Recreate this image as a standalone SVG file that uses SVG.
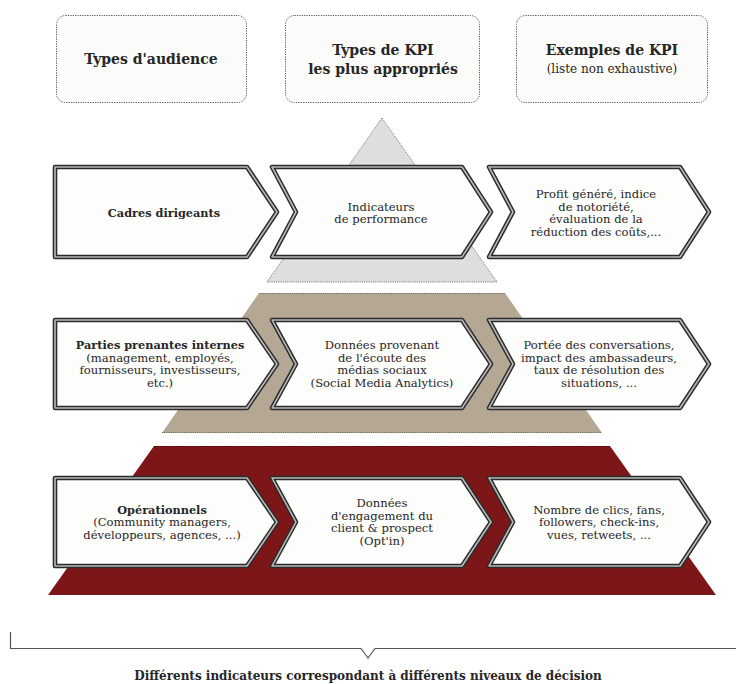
<svg xmlns="http://www.w3.org/2000/svg" width="736" height="684" viewBox="0 0 736 684">
  <style>
    .hdr { fill: #fbfbf9; stroke: #555; stroke-width: 1; stroke-dasharray: 1.2 1.2; }
    .chev-fill { fill: #fdfdfb; }
    .chev-outer { fill: none; stroke: #2b2b2b; stroke-width: 4.6; stroke-linejoin: round; }
    .chev-inner { fill: none; stroke: #b8b8b8; stroke-width: 1.6; stroke-linejoin: round; }
    text { font-family: "DejaVu Serif", "Liberation Serif", serif; fill: #262626; text-anchor: middle; }
    .h { font-size: 14px; font-weight: bold; }
    .hs { font-size: 12px; }
    .b { font-size: 11.3px; font-weight: bold; }
    .t { font-size: 11.6px; }
    .cap { font-size: 12px; font-weight: bold; }
  </style>

  <rect width="736" height="684" fill="#ffffff"/>

  <!-- pyramid layers -->
  <g id="pyramid">
    <polygon points="382,118 497,282 267,282" fill="#dedede" stroke="#6a6a6a" stroke-width="1" stroke-dasharray="1 1.2"/>
    <polygon points="259,293 505,293 602,433 162,433" fill="#b4a894"/>
    <line x1="259" y1="293.5" x2="505" y2="293.5" stroke="#6e6456" stroke-width="1" stroke-dasharray="1 1.2"/>
    <line x1="162" y1="432.5" x2="602" y2="432.5" stroke="#6e6456" stroke-width="1" stroke-dasharray="1 1.2"/>
    <polygon points="154,446 610,446 716,595 48,595" fill="#7d1619"/>
    <line x1="154" y1="446.5" x2="610" y2="446.5" stroke="#4a0a0c" stroke-width="1" stroke-dasharray="1 1.2"/>
  </g>

  <!-- column headers -->
  <g id="header-audience">
    <rect class="hdr" x="56.5" y="15.5" width="190" height="87" rx="9"/>
    <text class="h" x="151" y="64">Types d'audience</text>
  </g>
  <g id="header-kpi-types">
    <rect class="hdr" x="285.5" y="15.5" width="194" height="87" rx="9"/>
    <text class="h" x="383" y="55">Types de KPI</text>
    <text class="h" x="383" y="74">les plus appropriés</text>
  </g>
  <g id="header-kpi-examples">
    <rect class="hdr" x="516.5" y="15.5" width="191" height="87" rx="9"/>
    <text class="h" x="612" y="55">Exemples de KPI</text>
    <text class="hs" x="612" y="73">(liste non exhaustive)</text>
  </g>

  <defs>
    <path id="chevA" d="M0,0 H192 L222,45 L192,90 H0 Z"/>
    <path id="chevB" d="M0,0 H190 L219,45 L190,90 H0 L24,45 Z"/>
    <path id="chevC" d="M0,0 H191 L220,45 L191,90 H0 L24,45 Z"/>
  </defs>

  <!-- row 1 : executives -->
  <g id="row1-audience">
    <g transform="translate(55,167)">
      <use href="#chevA" class="chev-fill"/><use href="#chevA" class="chev-outer"/><use href="#chevA" class="chev-inner"/>
    </g>
    <text class="b" x="164" y="217">Cadres dirigeants</text>
  </g>
  <g id="row1-kpi-type">
    <g transform="translate(272,167)">
      <use href="#chevB" class="chev-fill"/><use href="#chevB" class="chev-outer"/><use href="#chevB" class="chev-inner"/>
    </g>
    <text class="t" x="381" y="210.8">Indicateurs</text>
    <text class="t" x="381" y="223.3">de performance</text>
  </g>
  <g id="row1-kpi-examples">
    <g transform="translate(489,167)">
      <use href="#chevC" class="chev-fill"/><use href="#chevC" class="chev-outer"/><use href="#chevC" class="chev-inner"/>
    </g>
    <text class="t" x="596" y="198.3">Profit généré, indice</text>
    <text class="t" x="596" y="210.8">de notoriété,</text>
    <text class="t" x="596" y="223.3">évaluation de la</text>
    <text class="t" x="596" y="235.8">réduction des coûts,...</text>
  </g>

  <!-- row 2 : internal stakeholders -->
  <g id="row2-audience">
    <g transform="translate(55,320) scale(1,0.978)">
      <use href="#chevA" class="chev-fill"/><use href="#chevA" class="chev-outer"/><use href="#chevA" class="chev-inner"/>
    </g>
    <text class="b" x="160" y="349.3">Parties prenantes internes</text>
    <text class="t" x="160" y="361.8">(management, employés,</text>
    <text class="t" x="160" y="374.3">fournisseurs, investisseurs,</text>
    <text class="t" x="160" y="386.8">etc.)</text>
  </g>
  <g id="row2-kpi-type">
    <g transform="translate(272,320) scale(1,0.978)">
      <use href="#chevB" class="chev-fill"/><use href="#chevB" class="chev-outer"/><use href="#chevB" class="chev-inner"/>
    </g>
    <text class="t" x="382" y="349.3">Données provenant</text>
    <text class="t" x="382" y="361.8">de l'écoute des</text>
    <text class="t" x="382" y="374.3">médias sociaux</text>
    <text class="t" x="382" y="386.8">(Social Media Analytics)</text>
  </g>
  <g id="row2-kpi-examples">
    <g transform="translate(489,320) scale(1,0.978)">
      <use href="#chevC" class="chev-fill"/><use href="#chevC" class="chev-outer"/><use href="#chevC" class="chev-inner"/>
    </g>
    <text class="t" x="599" y="349.3">Portée des conversations,</text>
    <text class="t" x="599" y="361.8">impact des ambassadeurs,</text>
    <text class="t" x="599" y="374.3">taux de résolution des</text>
    <text class="t" x="599" y="386.8">situations, ...</text>
  </g>

  <!-- row 3 : operational -->
  <g id="row3-audience">
    <g transform="translate(55,478) scale(1,0.978)">
      <use href="#chevA" class="chev-fill"/><use href="#chevA" class="chev-outer"/><use href="#chevA" class="chev-inner"/>
    </g>
    <text class="b" x="162" y="513.5">Opérationnels</text>
    <text class="t" x="162" y="526">(Community managers,</text>
    <text class="t" x="162" y="538.5">développeurs, agences, ...)</text>
  </g>
  <g id="row3-kpi-type">
    <g transform="translate(272,478) scale(1,0.978)">
      <use href="#chevB" class="chev-fill"/><use href="#chevB" class="chev-outer"/><use href="#chevB" class="chev-inner"/>
    </g>
    <text class="t" x="382" y="507.3">Données</text>
    <text class="t" x="382" y="519.8">d'engagement du</text>
    <text class="t" x="382" y="532.3">client &amp; prospect</text>
    <text class="t" x="382" y="544.8">(Opt'in)</text>
  </g>
  <g id="row3-kpi-examples">
    <g transform="translate(489,478) scale(1,0.978)">
      <use href="#chevC" class="chev-fill"/><use href="#chevC" class="chev-outer"/><use href="#chevC" class="chev-inner"/>
    </g>
    <text class="t" x="599" y="513.5">Nombre de clics, fans,</text>
    <text class="t" x="599" y="526">followers, check-ins,</text>
    <text class="t" x="599" y="538.5">vues, retweets, ...</text>
  </g>

  <!-- bracket and caption -->
  <g id="connectors" fill="none" stroke="#555" stroke-width="1.2">
    <path d="M10.5,632 V648.5 H361 L368,658 L375,648.5 H736"/>
  </g>
  <g id="caption">
    <text class="cap" x="368" y="680">Différents indicateurs correspondant à différents niveaux de décision</text>
  </g>
</svg>
